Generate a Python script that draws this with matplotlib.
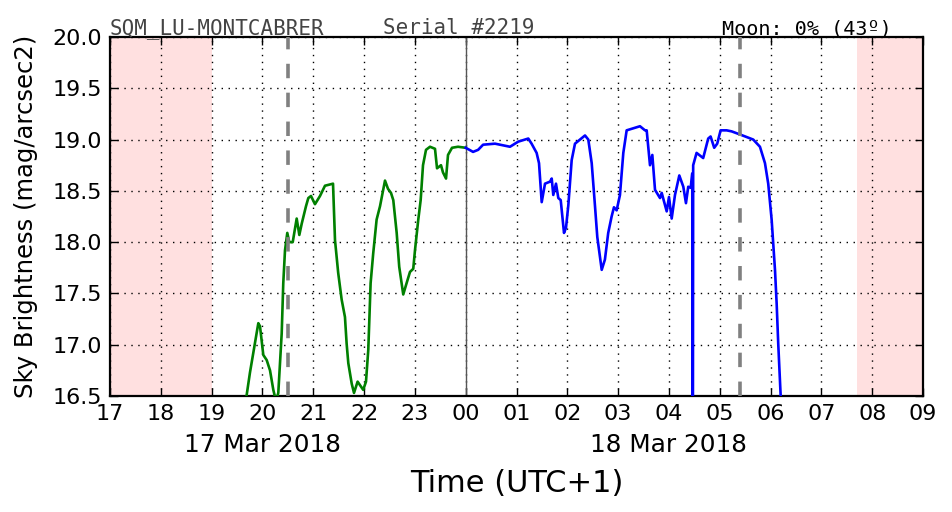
import matplotlib
matplotlib.use("Agg")
import matplotlib.pyplot as plt

# ---- data (hours since 17 Mar 2018 00:00, UTC+1) ----
green_t = [19.657, 19.755, 19.820, 19.854, 19.919, 19.952, 20.017, 20.084, 20.149, 20.214,
           20.267, 20.312, 20.379, 20.410, 20.444, 20.489, 20.528, 20.596, 20.674, 20.726,
           20.773, 20.857, 20.903, 20.956, 21.034, 21.133, 21.231, 21.389, 21.428, 21.491,
           21.559, 21.624, 21.657, 21.690, 21.757, 21.802, 21.873, 21.983, 22.038, 22.083,
           22.129, 22.180, 22.247, 22.314, 22.353, 22.412, 22.471, 22.530, 22.575, 22.642,
           22.692, 22.771, 22.837, 22.904, 22.968, 23.002, 23.067, 23.114, 23.160, 23.219,
           23.298, 23.396, 23.436, 23.514, 23.553, 23.613, 23.652, 23.731, 23.849, 24.000]
green_m = [16.40, 16.73, 16.92, 17.02, 17.21, 17.18, 16.90, 16.85, 16.75, 16.56,
           16.45, 16.53, 17.11, 17.60, 17.92, 18.09, 18.00, 18.00, 18.23, 18.07,
           18.18, 18.35, 18.43, 18.45, 18.37, 18.45, 18.55, 18.57, 18.02, 17.70,
           17.44, 17.27, 17.01, 16.82, 16.62, 16.53, 16.64, 16.56, 16.64, 16.95,
           17.60, 17.89, 18.22, 18.35, 18.45, 18.60, 18.52, 18.48, 18.41, 18.09,
           17.76, 17.49, 17.60, 17.71, 17.74, 17.92, 18.22, 18.41, 18.75, 18.90,
           18.93, 18.91, 18.72, 18.75, 18.68, 18.62, 18.85, 18.92, 18.93, 18.92]

blue_t = [24.000, 24.145, 24.245, 24.343, 24.577, 24.872, 25.035, 25.232, 25.297, 25.396,
          25.443, 25.496, 25.561, 25.660, 25.693, 25.724, 25.777, 25.823, 25.870, 25.935,
          25.974, 26.020, 26.086, 26.151, 26.348, 26.413, 26.480, 26.545, 26.590, 26.677,
          26.740, 26.805, 26.872, 26.918, 26.971, 27.036, 27.102, 27.168, 27.430, 27.529,
          27.562, 27.627, 27.673, 27.726, 27.824, 27.858, 27.956, 28.001, 28.054, 28.119,
          28.204, 28.283, 28.335, 28.380, 28.428, 28.459, 28.469, 28.477, 28.544, 28.674,
          28.773, 28.820, 28.891, 28.950, 29.017, 29.135, 29.233, 29.397, 29.659, 29.791,
          29.890, 29.954, 30.021, 30.087, 30.120, 30.151, 30.199, 30.224]
blue_m = [18.92, 18.88, 18.90, 18.95, 18.96, 18.93, 18.98, 19.01, 18.96, 18.87,
          18.77, 18.39, 18.57, 18.59, 18.62, 18.46, 18.57, 18.43, 18.41, 18.09,
          18.14, 18.36, 18.80, 18.96, 19.04, 19.00, 18.77, 18.35, 18.05, 17.73,
          17.83, 18.09, 18.25, 18.34, 18.31, 18.46, 18.87, 19.09, 19.13, 19.09,
          19.09, 18.75, 18.85, 18.51, 18.43, 18.48, 18.30, 18.44, 18.23, 18.46,
          18.65, 18.54, 18.38, 18.54, 18.53, 18.67, 15.00, 18.75, 18.87, 18.82,
          19.01, 19.03, 18.92, 18.96, 19.09, 19.09, 19.08, 19.05, 19.00, 18.93,
          18.77, 18.57, 18.22, 17.73, 17.40, 17.01, 16.50, 16.30]

twilight_spans = [(17.0, 19.0), (31.70, 33.0)]
moon_lines = [20.5, 29.4]
midnight = 24.0
hour_ticks = list(range(17, 34))
hour_labels = ["%02d" % (h % 24) for h in hour_ticks]
date_ticks = [20, 28]
date_labels = ["17 Mar 2018", "18 Mar 2018"]
y_ticks = [16.5, 17.0, 17.5, 18.0, 18.5, 19.0, 19.5, 20.0]

plt.rcParams['font.family'] = ['DejaVu Sans']

fig = plt.figure(figsize=(9.52, 5.12), dpi=100)
ax = fig.add_axes([110/952, 1 - 396/512, 813/952, 359/512])

for a, b in twilight_spans:
    ax.axvspan(a, b, color=(1.0, 0.0, 0.0), alpha=0.12, lw=0)

ax.plot(green_t, green_m, color='#008000', lw=1.9, zorder=3)
ax.plot(blue_t, blue_m, color='#0000ff', lw=1.9, zorder=3)

for x in moon_lines:
    ax.axvline(x, color='gray', lw=2.6, linestyle=(0, (4, 4)), zorder=4)
ax.axvline(midnight, color='#555555', lw=1.0, zorder=2)

ax.set_xlim(17, 33)
ax.set_ylim(16.5, 20.0)
ax.xaxis.remove_overlapping_locs = False
ax.set_xticks(hour_ticks)
ax.set_xticklabels(hour_labels)
ax.set_xticks(date_ticks, minor=True)
ax.set_xticklabels(date_labels, minor=True)
ax.set_yticks(y_ticks)
ax.set_yticklabels(["%.1f" % v for v in y_ticks])

ax.grid(True, which='major', color='black', linestyle=(0, (1, 4)), lw=1.0)
ax.tick_params(which='major', direction='in', top=True, right=True, length=6,
               width=1, labelsize=16, pad=6)
ax.tick_params(axis='x', which='minor', length=0, labelsize=17.8, pad=27,
               top=False, bottom=True)
for s in ax.spines.values():
    s.set_linewidth(1.6)

ax.set_ylabel("Sky Brightness (mag/arcsec2)", fontsize=17.5, labelpad=10)
ax.set_xlabel("Time (UTC+1)", fontsize=22, labelpad=8)

mono = ['DejaVu Sans Mono']
ax.text(0.0, 1.008, "SQM_LU-MONTCABRER", transform=ax.transAxes, ha='left', va='baseline',
        fontsize=15, family=mono, color='#444444')
ax.text(0.429, 1.008, "Serial #2219", transform=ax.transAxes, ha='center', va='baseline',
        fontsize=15, family=mono, color='#444444')
ax.text(0.962, 1.008, "Moon: 0% (43º)", transform=ax.transAxes, ha='right', va='baseline',
        fontsize=14.5, family=mono, color='black')

fig.savefig("out.png", dpi=100)
